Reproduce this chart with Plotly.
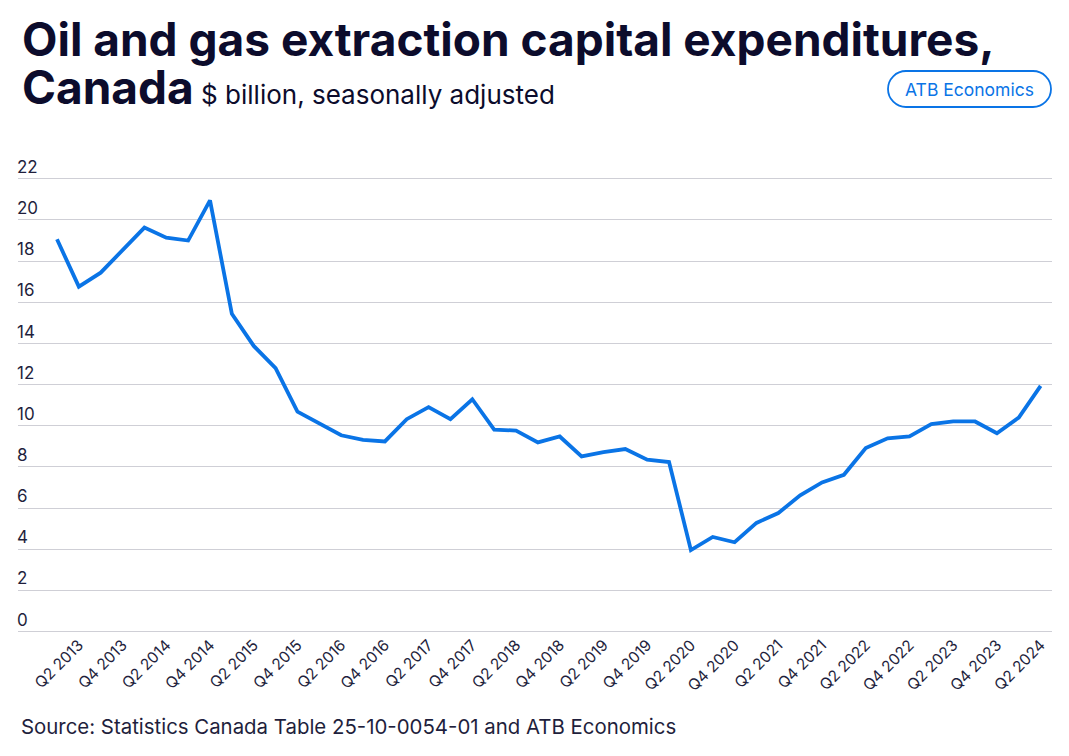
import plotly.graph_objects as go

# ---- data ----
quarters = []
for yr in range(2013, 2025):
    for q in range(1, 5):
        quarters.append(f"Q{q} {yr}")
quarters = quarters[:46]  # Q1 2013 .. Q2 2024

capex = [19.06, 16.76, 17.44, 18.54, 19.63, 19.14, 19.0, 20.95, 15.44, 13.88,
         12.80, 10.69, 10.13, 9.54, 9.32, 9.24, 10.32, 10.91, 10.32, 11.29,
         9.81, 9.77, 9.19, 9.48, 8.51, 8.72, 8.87, 8.35, 8.24, 3.96,
         4.60, 4.34, 5.28, 5.76, 6.62, 7.25, 7.62, 8.92, 9.39, 9.48,
         10.08, 10.21, 10.21, 9.64, 10.40, 11.94]

y_ticks = list(range(0, 23, 2))
tick_idx = [i for i, q in enumerate(quarters) if q.startswith("Q2") or q.startswith("Q4")]
tick_text = [quarters[i] for i in tick_idx]

TITLE_1 = "Oil and gas extraction capital expenditures,"
TITLE_2 = "Canada"
SUB = "$ billion, seasonally adjusted"
SOURCE = "Source: Statistics Canada Table 25-10-0054-01 and ATB Economics"

# ---- layout geometry (page coords, page has 8px body margin) ----
OFF = 8
W, H = 1053, 740
L, R, T, B = 18 - OFF, 1052 - OFF, 150 - OFF, 632 - OFF
NAVY = "#0c0c2c"
TICK = "#1f1f3d"
BLUE = "#0a74e6"
FONT = "Inter, Lato, sans-serif"

def px(x):  # page x -> paper
    return (x - OFF - L) / (R - L)

def py(y):  # page y -> paper
    return (B - (y - OFF)) / (B - T)

fig = go.Figure()
fig.add_trace(go.Scatter(
    x=list(range(len(quarters))), y=capex, mode="lines",
    line=dict(color=BLUE, width=3.8), hoverinfo="skip", showlegend=False,
))

fig.update_layout(
    width=W, height=H,
    margin=dict(l=L, r=W - R, t=T, b=H - B, pad=0),
    paper_bgcolor="white", plot_bgcolor="white",
    font=dict(family=FONT, color=NAVY),
    xaxis=dict(
        range=[-1.784, 45.52], tickmode="array", tickvals=tick_idx, ticktext=tick_text,
        tickangle=-45, showgrid=False, zeroline=False, showline=False, ticks="",
        tickfont=dict(size=15.5, color=TICK, family=FONT),
    ),
    yaxis=dict(
        range=[-0.02, 23.4], tickmode="array", tickvals=y_ticks,
        showgrid=True, gridcolor="#cfcfd6", gridwidth=1,
        zeroline=True, zerolinecolor="#cfcfd6", zerolinewidth=1,
        showline=False, ticks="", ticklabelposition="inside top",
        ticklabelstandoff=-4,
        tickfont=dict(size=17, color=TICK, family=FONT),
    ),
)

# title block: one text element, base size sets 48px line spacing
title_html = (
    f"<span style='font-size:46px'><b>{TITLE_1}</b></span><br>"
    f"<span style='font-size:46px'><b>{TITLE_2}</b></span>"
    f"<span style='font-size:26px'> {SUB}</span>"
)
fig.add_annotation(text=title_html, xref="paper", yref="paper",
                   x=px(20), y=py(9), xanchor="left", yanchor="top", align="left",
                   showarrow=False,
                   font=dict(size=48 / 1.3, color=NAVY, family=FONT))
fig.add_annotation(text=SOURCE, xref="paper", yref="paper",
                   x=px(19), y=py(726), xanchor="left", yanchor="middle", showarrow=False,
                   font=dict(size=20.4, color=TICK, family=FONT))

# pill badge
x0, x1, y0, y1 = 888, 1051, 71, 107
r = (y1 - y0) / 2
k = 0.5523 * r
pts = [
    f"M {px(x0 + r)},{py(y0)}",
    f"L {px(x1 - r)},{py(y0)}",
    f"C {px(x1 - r + k)},{py(y0)} {px(x1)},{py(y0 + r - k)} {px(x1)},{py(y0 + r)}",
    f"C {px(x1)},{py(y0 + r + k)} {px(x1 - r + k)},{py(y1)} {px(x1 - r)},{py(y1)}",
    f"L {px(x0 + r)},{py(y1)}",
    f"C {px(x0 + r - k)},{py(y1)} {px(x0)},{py(y0 + r + k)} {px(x0)},{py(y0 + r)}",
    f"C {px(x0)},{py(y0 + r - k)} {px(x0 + r - k)},{py(y0)} {px(x0 + r)},{py(y0)}",
    "Z",
]
fig.add_shape(type="path", path=" ".join(pts), xref="paper", yref="paper",
              line=dict(color=BLUE, width=1.8), fillcolor="white")
fig.add_annotation(text="ATB Economics", xref="paper", yref="paper",
                   x=px((x0 + x1) / 2), y=py((y0 + y1) / 2), xanchor="center", yanchor="middle",
                   showarrow=False, font=dict(size=17.5, color=BLUE, family=FONT))

fig.write_html("out.html")
